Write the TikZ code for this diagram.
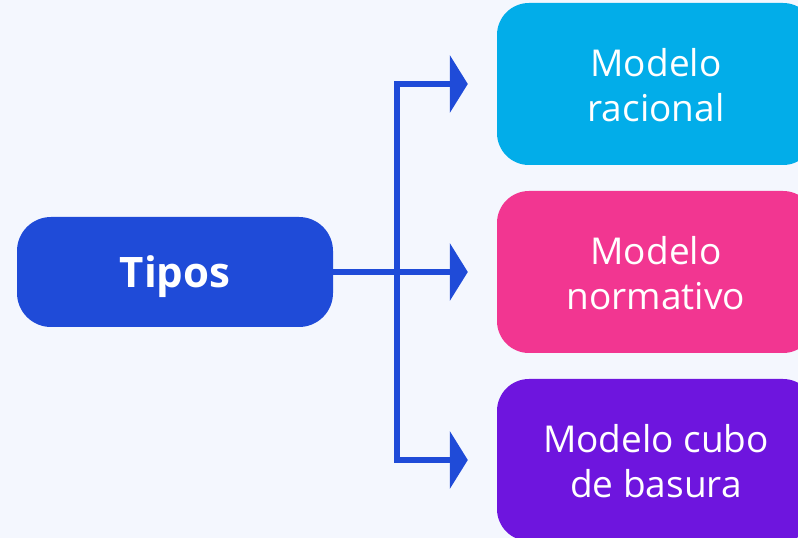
\documentclass[tikz,border=0pt]{standalone}
\usepackage{fontspec}
\setmainfont{Open Sans}
\usetikzlibrary{arrows.meta}
\definecolor{bg}{HTML}{F4F7FE}
\definecolor{tblue}{HTML}{1F4BD8}
\definecolor{tcyan}{HTML}{02ADE9}
\definecolor{tpink}{HTML}{F23691}
\definecolor{tpurple}{HTML}{6E15DE}
\tikzset{
  rootbox/.style={fill=tblue, rounded corners=34pt, minimum width=316pt, minimum height=110pt,
    text=white, font=\fontsize{42}{48}\selectfont\bfseries, inner sep=0pt, text depth=0pt},
  leafbox/.style={rounded corners=32pt, minimum width=318pt, minimum height=162pt,
    text=white, font=\fontsize{37}{45}\selectfont, align=center, inner sep=0pt,
    text height=76pt, text depth=0pt},
  conn/.style={draw=tblue, line width=6pt, line join=miter,
    -{Triangle[length=18pt,width=57pt]}, shorten >=29pt}
}
\begin{document}
\begin{tikzpicture}[x=1pt,y=1pt]
\useasboundingbox (0,0) rectangle (798,538);
\clip (0,0) rectangle (798,538);
\fill[bg] (0,0) rectangle (798,538);
\node[rootbox] (tipos) at (175,266) {Tipos};
\node[leafbox, fill=tcyan] (rac) at (656,454) {Modelo\\racional};
\node[leafbox, fill=tpink] (nor) at (656,266) {Modelo\\normativo};
\node[leafbox, fill=tpurple] (cub) at (656,78) {Modelo cubo\\de basura};
\coordinate (t) at (397,266);
\draw[conn] (tipos.east) -- (nor.west);
\draw[conn] (t) -- (t |- rac.west) -- (rac.west);
\draw[conn] (t) -- (t |- cub.west) -- (cub.west);
\end{tikzpicture}
\end{document}
